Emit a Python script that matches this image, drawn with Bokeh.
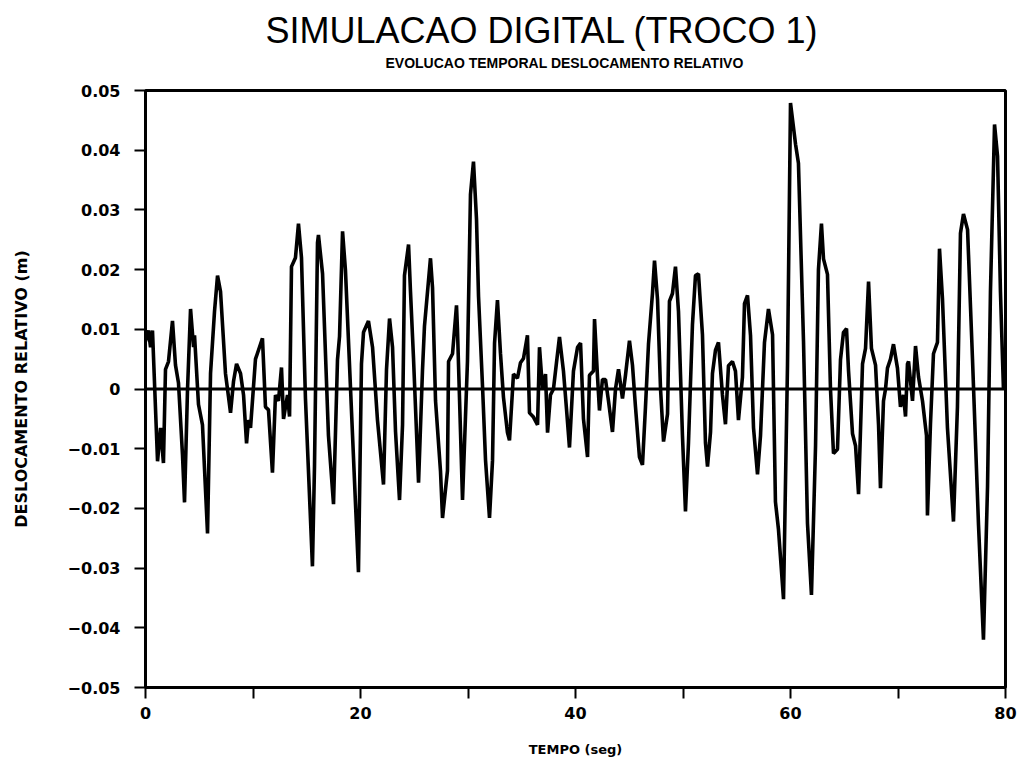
from bokeh.plotting import figure
from bokeh.models import Range1d, FixedTicker, Span, Title, CustomJSTickFormatter
from bokeh.embed import file_html
from bokeh.resources import INLINE

# time (s) and relative displacement (m)
tempo = [0.0, 0.28, 0.47, 0.65, 1.12, 1.40, 1.67, 1.86, 2.14, 2.51, 2.79, 3.07, 3.44, 3.63, 3.91,
         4.19, 4.47, 4.56, 4.93, 5.30, 5.77, 6.05, 6.42, 6.70, 6.98, 7.44, 7.72, 7.91, 8.19, 8.47,
         8.84, 9.12, 9.40, 9.58, 9.77, 10.23, 10.88, 11.16, 11.44, 11.81, 12.09, 12.37, 12.65, 12.84,
         13.21, 13.40, 13.58, 13.95, 14.23, 14.51, 14.88, 15.53, 15.72, 16.00, 16.09, 16.47, 17.02,
         17.49, 17.86, 18.05, 18.33, 18.60, 19.26, 19.81, 20.09, 20.28, 20.74, 21.12, 21.58, 22.14,
         22.42, 22.70, 22.98, 23.26, 23.63, 23.91, 24.09, 24.47, 24.65, 24.93, 25.40, 25.77, 25.95,
         26.51, 26.70, 26.98, 27.44, 27.63, 28.09, 28.19, 28.56, 28.93, 29.02, 29.49, 29.95, 30.23,
         30.51, 30.79, 30.98, 31.35, 31.63, 32.00, 32.28, 32.47, 32.74, 33.02, 33.30, 33.67, 33.86,
         34.23, 34.60, 34.88, 35.16, 35.53, 35.72, 36.09, 36.47, 36.65, 36.93, 37.21, 37.40, 37.67,
         37.95, 38.23, 38.51, 38.88, 39.16, 39.44, 39.81, 40.19, 40.47, 40.74, 41.12, 41.30, 41.67,
         41.77, 42.05, 42.23, 42.51, 42.79, 43.07, 43.44, 43.72, 44.00, 44.37, 44.65, 45.02, 45.30,
         45.58, 45.95, 46.23, 46.51, 46.79, 47.16, 47.35, 47.63, 47.91, 48.19, 48.56, 48.74, 49.02,
         49.30, 49.58, 49.95, 50.23, 50.51, 50.88, 51.16, 51.44, 51.81, 52.09, 52.28, 52.56, 52.74,
         53.02, 53.30, 53.67, 53.95, 54.23, 54.60, 54.88, 55.16, 55.53, 55.72, 56.00, 56.28, 56.56,
         56.93, 57.21, 57.58, 57.95, 58.33, 58.60, 58.88, 59.35, 59.72, 60.00, 60.47, 60.74, 61.21,
         61.58, 61.95, 62.33, 62.60, 62.88, 63.07, 63.44, 63.72, 64.00, 64.37, 64.65, 64.93, 65.21,
         65.40, 65.77, 66.05, 66.33, 66.70, 66.98, 67.26, 67.53, 67.91, 68.19, 68.37, 68.65, 68.84,
         69.02, 69.30, 69.58, 69.95, 70.23, 70.51, 70.70, 70.88, 70.98, 71.35, 71.63, 71.91, 72.28,
         72.65, 72.74, 73.02, 73.30, 73.67, 73.86, 74.14, 74.60, 75.16, 75.53, 75.81, 76.09, 76.47,
         76.93, 77.49, 77.95, 78.33, 78.60, 78.98, 79.26, 79.53, 79.81]

deslocamento = [0.008, 0.0098, 0.007, 0.0098, -0.0121, -0.0065, -0.0124, 0.0033, 0.0046, 0.0114,
                0.004, 0.001, -0.011, -0.019, 0.0, 0.0134, 0.007, 0.009, -0.0026, -0.006, -0.0242,
                0.0026, 0.013, 0.019, 0.0163, 0.0026, -0.0013, -0.004, 0.0013, 0.0042, 0.0026,
                -0.001, -0.0091, -0.0052, -0.0065, 0.005, 0.0085, -0.003, -0.0035, -0.014, -0.001,
                -0.002, 0.0036, -0.005, -0.001, -0.0046, 0.0205, 0.022, 0.0277, 0.022, -0.0016,
                -0.0297, -0.013, 0.0245, 0.0258, 0.0193, -0.0078, -0.0193, 0.0049, 0.0088, 0.0264,
                0.0199, -0.0078, -0.0307, 0.0042, 0.0095, 0.0114, 0.007, -0.0052, -0.016, 0.0033,
                0.0118, 0.007, -0.0072, -0.0186, -0.006, 0.019, 0.0242, 0.0163, 0.0052, -0.0157,
                0.0033, 0.0105, 0.0219, 0.017, -0.002, -0.0137, -0.0216, -0.0137, 0.0046, 0.0059,
                0.014, 0.010, -0.0186, 0.0046, 0.0326, 0.0381, 0.0285, 0.0155, 0.0005, -0.0119,
                -0.0216, -0.012, 0.0077, 0.0149, 0.006, -0.0014, -0.0073, -0.0086, 0.0025, 0.0018,
                0.0044, 0.0051, 0.0090, -0.004, -0.0047, -0.006, 0.007, 0.0, 0.0025, -0.0073,
                -0.001, 0.0, 0.0044, 0.0087, 0.003, -0.0033, -0.0098, 0.003, 0.007, 0.0077, -0.005,
                -0.0114, 0.0023, 0.003, 0.0117, 0.002, -0.0036, 0.0016, 0.0016, -0.002, -0.0072,
                0.0, 0.0033, -0.0016, 0.0023, 0.0081, 0.004, -0.003, -0.0114, -0.0127, -0.003,
                0.0075, 0.016, 0.0215, 0.015, 0.0, -0.0088, -0.0042, 0.0147, 0.016, 0.0205, 0.013,
                -0.0078, -0.0205, -0.009, 0.0108, 0.019, 0.0193, 0.0091, -0.009, -0.013, -0.0072,
                0.0026, 0.0065, 0.0078, -0.001, -0.0059, 0.0039, 0.0046, 0.003, -0.0052, 0.002,
                0.0143, 0.0157, 0.009, -0.0065, -0.0143, -0.0078, 0.0078, 0.0134, 0.0091, -0.0189,
                -0.0235, -0.0352, 0.0039, 0.0479, 0.041, 0.0378, 0.008, -0.0225, -0.0345, -0.0095,
                0.02, 0.0277, 0.0218, 0.0192, 0.0, -0.0108, -0.0101, 0.0049, 0.0095, 0.0101, 0.003,
                -0.0075, -0.0095, -0.0176, 0.0042, 0.0068, 0.018, 0.0068, 0.004, -0.006, -0.0166,
                -0.002, 0.0, 0.0035, 0.005, 0.0075, 0.0035, -0.003, -0.001, -0.0046, 0.0042, 0.0046,
                -0.002, 0.0072, 0.002, -0.002, -0.0078, -0.0212, -0.0059, 0.0059, 0.0078, 0.0235,
                0.015, -0.0065, -0.0222, -0.003, 0.0261, 0.0293, 0.0267, 0.005, -0.0228, -0.042,
                -0.0163, 0.0163, 0.0443, 0.039, 0.0163, 0.0]

x_ticks = [0, 20, 40, 60, 80]
x_minor = [10, 30, 50, 70]
y_ticks = [-0.05, -0.04, -0.03, -0.02, -0.01, 0.0, 0.01, 0.02, 0.03, 0.04, 0.05]

titulo = "SIMULACAO DIGITAL (TROCO 1)"
subtitulo = "EVOLUCAO TEMPORAL DESLOCAMENTO RELATIVO"
x_label = "TEMPO (seg)"
y_label = "DESLOCAMENTO RELATIVO (m)"

p = figure(width=1024, height=765, output_backend="svg", toolbar_location=None,
           x_range=Range1d(0, 80), y_range=Range1d(-0.05, 0.05),
           min_border_left=145, min_border_right=19, min_border_top=90, min_border_bottom=78,
           title=titulo)

# main title (outermost)
p.title.align = "left"
p.title.offset = 120
p.title.text_font = "Liberation Sans"
p.title.text_font_style = "normal"
p.title.text_font_size = "36px"
p.title.text_color = "black"
p.title.standoff = -36

# subtitle (closest to the frame)
sub = Title(text=subtitulo, align="left", offset=240, text_font="Liberation Sans",
            text_font_style="bold", text_font_size="14px", text_color="black", standoff=40)
p.add_layout(sub, "above")

p.grid.visible = False
p.outline_line_color = "black"
p.outline_line_width = 3
p.background_fill_color = "white"
p.border_fill_color = "white"

p.line(tempo, deslocamento, line_color="black", line_width=3.6)
p.add_layout(Span(location=0, dimension="width", line_color="black", line_width=3))

xa = p.xaxis[0]
xa.ticker = FixedTicker(ticks=x_ticks, minor_ticks=x_minor)
xa.axis_label = x_label
ya = p.yaxis[0]
ya.ticker = FixedTicker(ticks=y_ticks, minor_ticks=[])
ya.axis_label = y_label
ya.formatter = CustomJSTickFormatter(code="""
    const v = Math.round(tick*100)/100;
    if (v == 0) return "0";
    return (v < 0 ? "\u2212" : "") + Math.abs(v).toFixed(2);
""")

for ax in (xa, ya):
    ax.axis_line_width = 3
    ax.axis_line_color = "black"
    ax.major_tick_in = 0
    ax.major_tick_out = 11
    ax.minor_tick_in = 0
    ax.minor_tick_out = 11
    ax.major_tick_line_width = 2
    ax.minor_tick_line_width = 2
    ax.major_label_text_font = "DejaVu Sans"
    ax.major_label_text_font_style = "bold"
    ax.major_label_text_font_size = "16px"
    ax.major_label_text_color = "black"
    ax.axis_label_text_font = "DejaVu Sans"
    ax.axis_label_text_font_style = "bold"
    ax.axis_label_text_color = "black"

xa.axis_label_text_font_size = "13px"
ya.axis_label_text_font_size = "16px"
xa.major_label_standoff = 8
xa.axis_label_standoff = 20
ya.major_label_standoff = 14
ya.axis_label_standoff = 34

open("out.html", "w").write(file_html(p, INLINE))
